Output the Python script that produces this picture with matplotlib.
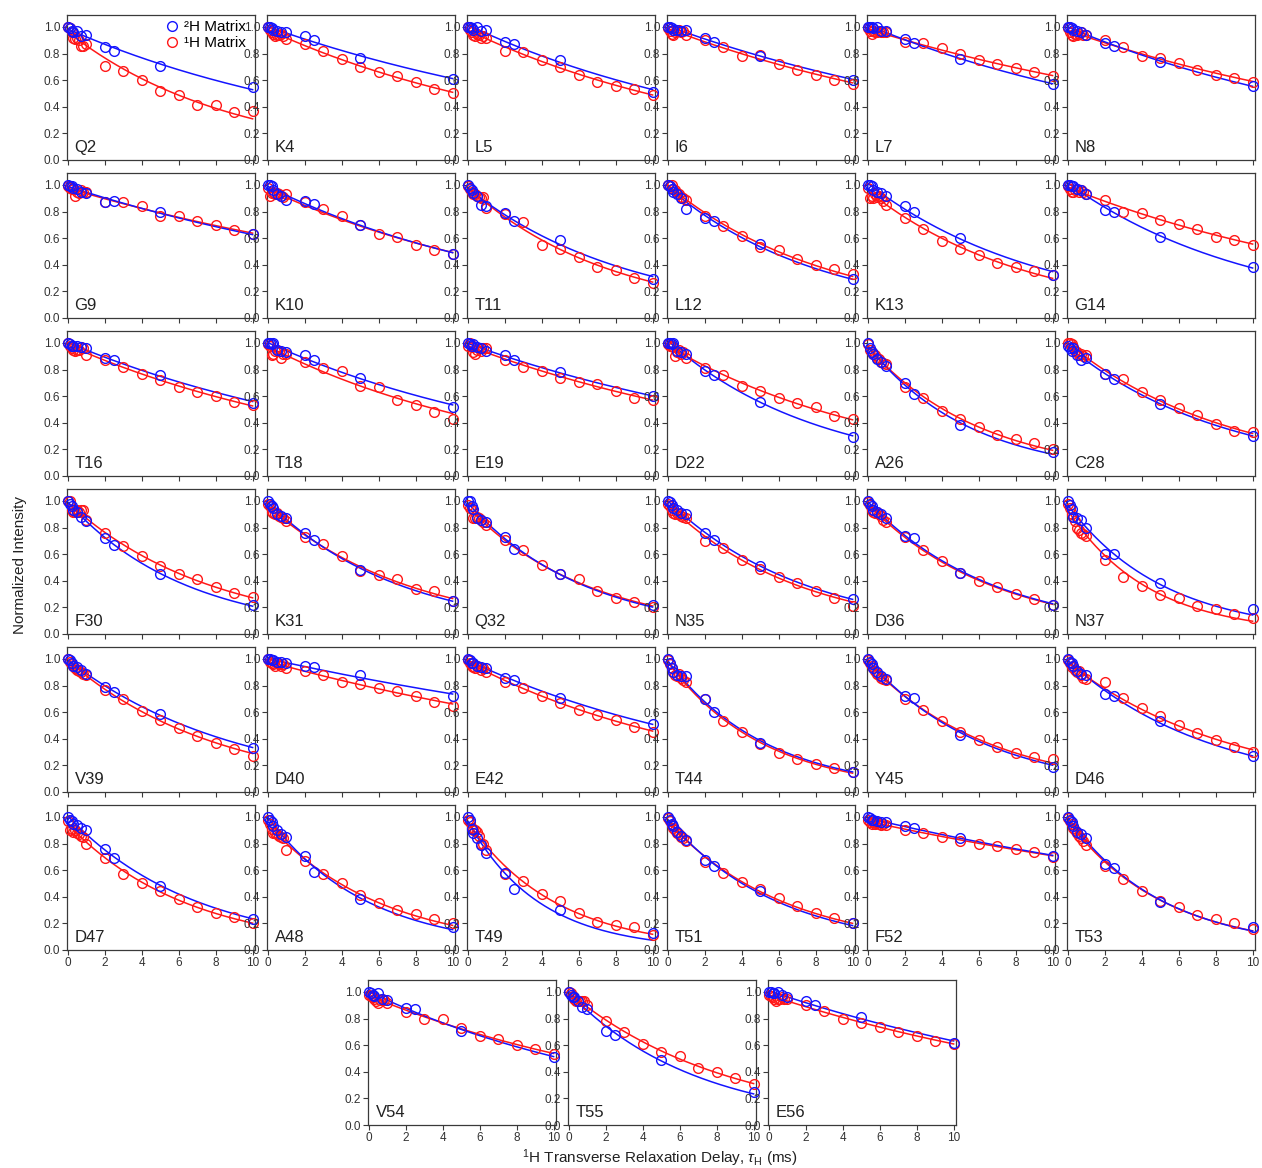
import numpy as np
import matplotlib
matplotlib.use("Agg")
import matplotlib.pyplot as plt
from matplotlib.lines import Line2D

plt.rcParams["font.family"] = ["Liberation Sans", "DejaVu Sans"]
plt.rcParams["mathtext.fontset"] = "custom"
plt.rcParams["mathtext.rm"] = "Liberation Sans"
plt.rcParams["mathtext.it"] = "Liberation Sans:italic"

# relaxation delays (ms)
BLUE_X = [0, 0.1, 0.2, 0.3, 0.5, 0.7, 1, 2, 2.5, 5, 10]
RED_X = [0, 0.1, 0.2, 0.3, 0.4, 0.5, 0.6, 0.7, 0.8, 1, 2, 3, 4, 5, 6, 7, 8, 9, 10]

LABELS = ["Q2", "K4", "L5", "I6", "L7", "N8",
          "G9", "K10", "T11", "L12", "K13", "G14",
          "T16", "T18", "E19", "D22", "A26", "C28",
          "F30", "K31", "Q32", "N35", "D36", "N37",
          "V39", "D40", "E42", "T44", "Y45", "D46",
          "D47", "A48", "T49", "T51", "F52", "T53",
          "V54", "T55", "E56"]

# 2H matrix intensities, one row per residue
BLUE_Y = [
    [1.00, 0.99, 0.97, 0.96, 0.97, 0.93, 0.94, 0.85, 0.82, 0.71, 0.55],
    [1.00, 1.00, 0.99, 0.98, 0.97, 0.96, 0.96, 0.93, 0.90, 0.77, 0.61],
    [1.00, 1.00, 0.99, 0.98, 1.00, 0.97, 0.98, 0.89, 0.87, 0.75, 0.51],
    [1.00, 1.00, 0.99, 0.98, 0.98, 0.97, 0.98, 0.92, 0.89, 0.78, 0.60],
    [1.00, 1.00, 1.00, 0.99, 1.00, 0.97, 0.97, 0.91, 0.88, 0.76, 0.57],
    [1.00, 1.00, 0.99, 0.98, 0.97, 0.96, 0.94, 0.88, 0.86, 0.74, 0.56],
    [1.00, 0.99, 0.99, 0.98, 0.97, 0.95, 0.94, 0.87, 0.88, 0.80, 0.63],
    [1.00, 1.00, 0.99, 0.96, 0.93, 0.92, 0.89, 0.88, 0.86, 0.70, 0.48],
    [1.00, 0.98, 0.96, 0.94, 0.92, 0.85, 0.84, 0.79, 0.73, 0.59, 0.29],
    [1.00, 0.99, 0.97, 0.95, 0.93, 0.90, 0.82, 0.75, 0.73, 0.56, 0.29],
    [1.00, 1.00, 0.99, 0.96, 0.95, 0.94, 0.92, 0.84, 0.80, 0.60, 0.32],
    [1.00, 1.00, 0.99, 0.99, 0.97, 0.96, 0.93, 0.81, 0.80, 0.61, 0.38],
    [1.00, 0.99, 0.98, 0.98, 0.98, 0.97, 0.96, 0.89, 0.87, 0.76, 0.55],
    [1.00, 1.00, 0.99, 1.00, 0.95, 0.94, 0.93, 0.91, 0.87, 0.74, 0.52],
    [1.00, 0.99, 0.98, 0.99, 0.97, 0.96, 0.94, 0.91, 0.87, 0.78, 0.60],
    [1.00, 1.00, 0.99, 1.00, 0.94, 0.93, 0.92, 0.79, 0.76, 0.56, 0.29],
    [1.00, 0.96, 0.93, 0.92, 0.88, 0.86, 0.83, 0.70, 0.62, 0.38, 0.18],
    [0.98, 0.96, 0.94, 0.96, 0.91, 0.87, 0.89, 0.77, 0.73, 0.54, 0.30],
    [1.00, 0.98, 0.96, 0.93, 0.92, 0.88, 0.85, 0.72, 0.67, 0.45, 0.22],
    [1.00, 0.98, 0.96, 0.95, 0.90, 0.89, 0.87, 0.76, 0.71, 0.48, 0.25],
    [1.00, 1.00, 0.96, 0.94, 0.87, 0.86, 0.84, 0.73, 0.64, 0.45, 0.22],
    [1.00, 0.99, 0.97, 0.95, 0.93, 0.91, 0.90, 0.76, 0.71, 0.51, 0.26],
    [1.00, 0.98, 0.96, 0.93, 0.92, 0.90, 0.87, 0.74, 0.72, 0.46, 0.22],
    [1.00, 0.97, 0.94, 0.88, 0.87, 0.86, 0.80, 0.60, 0.60, 0.38, 0.19],
    [1.00, 0.99, 0.97, 0.95, 0.94, 0.92, 0.89, 0.79, 0.75, 0.59, 0.33],
    [1.00, 1.00, 0.99, 0.99, 0.98, 0.98, 0.97, 0.95, 0.94, 0.88, 0.72],
    [1.00, 0.99, 0.97, 0.97, 0.95, 0.94, 0.93, 0.86, 0.84, 0.71, 0.51],
    [1.00, 0.97, 0.93, 0.90, 0.88, 0.87, 0.87, 0.70, 0.60, 0.37, 0.15],
    [1.00, 0.98, 0.96, 0.93, 0.90, 0.87, 0.85, 0.72, 0.71, 0.43, 0.19],
    [1.00, 0.98, 0.97, 0.95, 0.91, 0.89, 0.88, 0.74, 0.72, 0.53, 0.27],
    [1.00, 0.98, 0.97, 0.95, 0.94, 0.92, 0.90, 0.76, 0.69, 0.48, 0.23],
    [1.00, 0.98, 0.96, 0.93, 0.90, 0.87, 0.85, 0.71, 0.59, 0.38, 0.17],
    [1.00, 0.98, 0.91, 0.88, 0.84, 0.79, 0.73, 0.58, 0.46, 0.30, 0.13],
    [1.00, 0.98, 0.95, 0.93, 0.89, 0.86, 0.83, 0.68, 0.63, 0.44, 0.20],
    [1.00, 0.99, 0.98, 0.98, 0.97, 0.96, 0.96, 0.93, 0.92, 0.84, 0.71],
    [1.00, 0.98, 0.96, 0.93, 0.89, 0.87, 0.84, 0.65, 0.62, 0.36, 0.17],
    [1.00, 0.99, 0.98, 0.97, 0.99, 0.95, 0.94, 0.88, 0.87, 0.71, 0.51],
    [1.00, 0.98, 0.96, 0.96, 0.93, 0.89, 0.87, 0.71, 0.68, 0.49, 0.25],
    [1.00, 1.00, 0.99, 0.99, 1.00, 0.98, 0.96, 0.93, 0.90, 0.81, 0.62],
]

# 1H matrix intensities, one row per residue
RED_Y = [
    [1.00, 0.99, 0.96, 0.92, 0.91, 0.92, 0.90, 0.86, 0.86, 0.87, 0.71, 0.67, 0.60, 0.52, 0.49, 0.41, 0.41, 0.36, 0.37],
    [1.00, 0.98, 0.96, 0.95, 0.93, 0.94, 0.94, 0.95, 0.93, 0.91, 0.87, 0.82, 0.76, 0.70, 0.66, 0.63, 0.59, 0.53, 0.50],
    [1.00, 0.98, 0.96, 0.94, 0.93, 0.95, 0.94, 0.92, 0.93, 0.92, 0.82, 0.81, 0.75, 0.70, 0.64, 0.59, 0.56, 0.53, 0.49],
    [0.99, 0.97, 0.95, 0.94, 0.96, 0.97, 0.98, 0.96, 0.97, 0.94, 0.90, 0.85, 0.78, 0.79, 0.72, 0.68, 0.64, 0.60, 0.57],
    [0.99, 0.97, 0.95, 0.97, 0.96, 0.96, 0.97, 0.96, 0.96, 0.96, 0.89, 0.88, 0.84, 0.80, 0.75, 0.72, 0.69, 0.66, 0.63],
    [0.99, 0.96, 0.94, 0.93, 0.95, 0.94, 0.95, 0.96, 0.94, 0.94, 0.90, 0.85, 0.78, 0.77, 0.73, 0.68, 0.64, 0.62, 0.59],
    [0.99, 0.98, 0.97, 0.97, 0.92, 0.95, 0.94, 0.96, 0.95, 0.95, 0.87, 0.87, 0.84, 0.77, 0.77, 0.73, 0.70, 0.66, 0.63],
    [0.98, 0.92, 0.94, 0.95, 0.93, 0.94, 0.93, 0.92, 0.91, 0.93, 0.87, 0.82, 0.77, 0.70, 0.63, 0.61, 0.55, 0.51, 0.48],
    [0.99, 0.97, 0.95, 0.93, 0.93, 0.92, 0.91, 0.90, 0.91, 0.83, 0.78, 0.72, 0.55, 0.52, 0.46, 0.38, 0.36, 0.30, 0.26],
    [1.00, 0.99, 1.00, 0.97, 0.96, 0.94, 0.93, 0.91, 0.90, 0.89, 0.77, 0.69, 0.62, 0.53, 0.51, 0.44, 0.40, 0.37, 0.33],
    [0.98, 0.90, 0.92, 0.90, 0.93, 0.91, 0.92, 0.90, 0.88, 0.85, 0.75, 0.67, 0.58, 0.52, 0.47, 0.41, 0.38, 0.35, 0.32],
    [0.99, 0.97, 0.95, 0.95, 0.96, 0.97, 0.95, 0.96, 0.95, 0.93, 0.89, 0.80, 0.79, 0.74, 0.71, 0.67, 0.61, 0.59, 0.55],
    [1.00, 0.98, 0.96, 0.95, 0.94, 0.95, 0.95, 0.97, 0.96, 0.91, 0.87, 0.82, 0.77, 0.72, 0.67, 0.63, 0.60, 0.56, 0.53],
    [0.99, 0.98, 0.91, 0.92, 0.94, 0.95, 0.94, 0.89, 0.92, 0.92, 0.86, 0.81, 0.79, 0.68, 0.67, 0.57, 0.53, 0.48, 0.43],
    [0.98, 1.00, 0.97, 0.93, 0.92, 0.95, 0.96, 0.94, 0.96, 0.96, 0.87, 0.82, 0.79, 0.74, 0.71, 0.69, 0.64, 0.59, 0.57],
    [0.99, 0.98, 0.98, 0.97, 0.90, 0.93, 0.95, 0.92, 0.93, 0.89, 0.81, 0.76, 0.68, 0.64, 0.59, 0.55, 0.52, 0.45, 0.43],
    [0.99, 0.95, 0.93, 0.92, 0.91, 0.89, 0.88, 0.86, 0.85, 0.84, 0.67, 0.59, 0.49, 0.43, 0.37, 0.31, 0.28, 0.25, 0.20],
    [1.00, 1.00, 0.99, 0.97, 0.94, 0.93, 0.91, 0.92, 0.90, 0.91, 0.77, 0.73, 0.63, 0.57, 0.51, 0.46, 0.39, 0.34, 0.33],
    [1.00, 1.00, 0.93, 0.92, 0.92, 0.93, 0.92, 0.93, 0.93, 0.86, 0.76, 0.66, 0.59, 0.51, 0.45, 0.41, 0.35, 0.31, 0.28],
    [0.98, 0.96, 0.92, 0.91, 0.90, 0.91, 0.89, 0.88, 0.87, 0.85, 0.73, 0.68, 0.59, 0.47, 0.44, 0.41, 0.34, 0.32, 0.25],
    [0.97, 0.95, 0.94, 0.87, 0.87, 0.88, 0.87, 0.86, 0.84, 0.82, 0.71, 0.63, 0.52, 0.45, 0.41, 0.32, 0.27, 0.24, 0.20],
    [0.98, 0.96, 0.93, 0.91, 0.90, 0.91, 0.90, 0.89, 0.88, 0.87, 0.70, 0.65, 0.56, 0.49, 0.43, 0.38, 0.32, 0.27, 0.21],
    [0.99, 0.97, 0.93, 0.92, 0.91, 0.92, 0.90, 0.89, 0.86, 0.84, 0.73, 0.63, 0.55, 0.46, 0.40, 0.35, 0.30, 0.26, 0.22],
    [0.98, 0.95, 0.90, 0.88, 0.85, 0.80, 0.78, 0.76, 0.75, 0.74, 0.56, 0.43, 0.36, 0.29, 0.27, 0.21, 0.19, 0.15, 0.12],
    [1.00, 0.98, 0.96, 0.95, 0.93, 0.92, 0.91, 0.90, 0.89, 0.88, 0.77, 0.70, 0.61, 0.54, 0.48, 0.42, 0.37, 0.32, 0.27],
    [1.00, 0.98, 0.97, 0.96, 0.95, 0.97, 0.96, 0.95, 0.96, 0.93, 0.91, 0.88, 0.83, 0.81, 0.78, 0.76, 0.72, 0.68, 0.65],
    [0.99, 0.97, 0.95, 0.94, 0.93, 0.95, 0.94, 0.92, 0.93, 0.90, 0.83, 0.78, 0.72, 0.67, 0.62, 0.58, 0.54, 0.49, 0.45],
    [0.99, 0.96, 0.93, 0.90, 0.88, 0.87, 0.89, 0.86, 0.84, 0.83, 0.70, 0.53, 0.45, 0.36, 0.29, 0.25, 0.21, 0.18, 0.15],
    [0.99, 0.97, 0.95, 0.93, 0.91, 0.89, 0.88, 0.86, 0.85, 0.84, 0.70, 0.62, 0.53, 0.45, 0.39, 0.34, 0.29, 0.26, 0.25],
    [0.99, 0.97, 0.94, 0.95, 0.92, 0.90, 0.91, 0.88, 0.86, 0.85, 0.83, 0.71, 0.63, 0.57, 0.50, 0.44, 0.39, 0.34, 0.30],
    [0.97, 0.90, 0.91, 0.89, 0.90, 0.88, 0.87, 0.86, 0.85, 0.80, 0.69, 0.57, 0.50, 0.44, 0.38, 0.32, 0.28, 0.25, 0.20],
    [0.98, 0.95, 0.91, 0.88, 0.88, 0.87, 0.86, 0.85, 0.84, 0.75, 0.67, 0.57, 0.50, 0.41, 0.35, 0.30, 0.27, 0.23, 0.20],
    [0.98, 0.96, 0.92, 0.90, 0.90, 0.89, 0.86, 0.80, 0.80, 0.75, 0.57, 0.52, 0.42, 0.37, 0.28, 0.21, 0.19, 0.17, 0.11],
    [0.99, 0.97, 0.94, 0.92, 0.90, 0.88, 0.87, 0.85, 0.84, 0.82, 0.66, 0.58, 0.51, 0.46, 0.39, 0.33, 0.28, 0.24, 0.20],
    [0.98, 0.96, 0.95, 0.96, 0.95, 0.96, 0.95, 0.94, 0.95, 0.94, 0.90, 0.88, 0.85, 0.82, 0.80, 0.78, 0.76, 0.74, 0.70],
    [0.99, 0.97, 0.95, 0.92, 0.90, 0.88, 0.86, 0.84, 0.82, 0.79, 0.63, 0.53, 0.44, 0.37, 0.32, 0.26, 0.23, 0.20, 0.16],
    [0.98, 0.97, 0.96, 0.95, 0.93, 0.92, 0.94, 0.95, 0.94, 0.92, 0.85, 0.80, 0.80, 0.73, 0.67, 0.65, 0.60, 0.57, 0.53],
    [1.00, 0.99, 0.97, 0.95, 0.93, 0.93, 0.93, 0.93, 0.93, 0.90, 0.78, 0.70, 0.61, 0.55, 0.52, 0.43, 0.40, 0.35, 0.31],
    [0.98, 0.97, 0.96, 0.95, 0.93, 0.95, 0.95, 0.96, 0.95, 0.95, 0.90, 0.86, 0.80, 0.77, 0.74, 0.70, 0.67, 0.63, 0.61],
]

BLUE = "#1414ff"
RED = "#ff1818"
EDGE = "#3a3a3a"


def fit_decay(x, y):
    # single exponential A*exp(-R*t), least squares over a grid of R
    x = np.asarray(x, float)
    y = np.asarray(y, float)
    rates = np.linspace(0.001, 0.6, 6000)
    e = np.exp(-np.outer(rates, x))
    amp = (e @ y) / (e * e).sum(axis=1)
    sse = ((amp[:, None] * e - y) ** 2).sum(axis=1)
    i = np.argmin(sse)
    return amp[i], rates[i]


W, H = 1262, 1168
fig = plt.figure(figsize=(W / 100, H / 100), dpi=100)
t = np.linspace(0, 10, 200)

for i, lab in enumerate(LABELS):
    if i < 36:
        r, c = divmod(i, 6)
        left, top = 67 + 200 * c, 15 + 158 * r
    else:
        left, top = 368 + 200 * (i - 36), 980
    ax = fig.add_axes([left / W, 1 - (top + 145) / H, 188 / W, 145 / H])

    for xs, ys, col in ((RED_X, RED_Y[i], RED), (BLUE_X, BLUE_Y[i], BLUE)):
        a, k = fit_decay(xs, ys)
        ax.plot(t, a * np.exp(-k * t), color=col, lw=1.1, zorder=2)
        ax.plot(xs, ys, "o", ms=7, mfc="none", mec=col, mew=1.0, zorder=3,
                clip_on=False)

    ax.set_xlim(-0.05, 10.13)
    ax.set_ylim(0, 1.09)
    ax.set_xticks(range(0, 11, 2))
    ax.set_yticks(np.arange(0, 1.01, 0.2))
    ax.set_yticklabels([f"{v:.1f}" for v in np.arange(0, 1.01, 0.2)])
    ax.tick_params(direction="out", length=3.5, width=0.8, color=EDGE,
                   labelsize=8.5, labelcolor="#333333", pad=1.5)
    if i < 30:
        ax.tick_params(axis="x", labelbottom=False)
    for s in ax.spines.values():
        s.set_color(EDGE)
        s.set_linewidth(0.9)
    ax.text(0.04, 0.035, lab, transform=ax.transAxes, fontsize=12,
            color="#222222", ha="left", va="bottom")

    if i == 0:
        handles = [
            Line2D([], [], ls="none", marker="o", ms=7, mfc="none", mec=BLUE, mew=1.0),
            Line2D([], [], ls="none", marker="o", ms=7, mfc="none", mec=RED, mew=1.0),
        ]
        ax.legend(handles, ["\u00b2H Matrix", "\u00b9H Matrix"], loc="upper right",
                  bbox_to_anchor=(0.96, 0.975), frameon=False, fontsize=11,
                  handlelength=0.7, handletextpad=0.45, borderaxespad=0.0,
                  labelspacing=0.12, borderpad=0.1)

fig.text(660 / W, 1 - 1158 / H,
         r"$^{1}$H Transverse Relaxation Delay, $\tau_{\mathrm{H}}$ (ms)",
         ha="center", va="center", fontsize=11, color="#222222")
fig.text(20 / W, 1 - 565 / H, "Normalized Intensity", rotation=90,
         ha="center", va="center", fontsize=11, color="#222222")

fig.savefig("out.png", dpi=100)
